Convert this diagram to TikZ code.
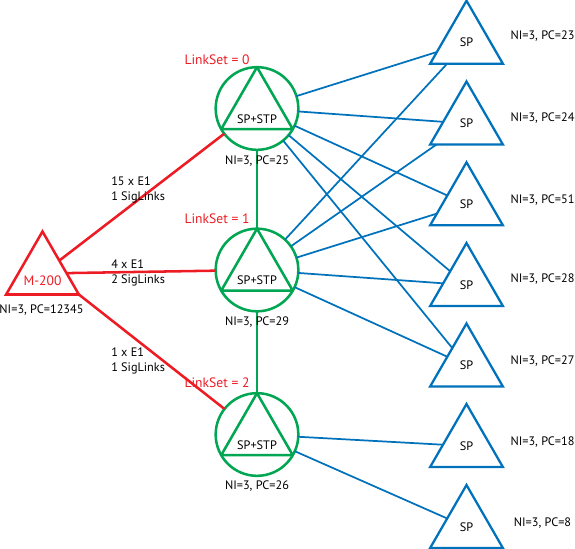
\documentclass[tikz,border=0pt]{standalone}
\usepackage{fontspec}
\setmainfont{PT Sans}
\usetikzlibrary{shapes.geometric}
\definecolor{stpgreen}{HTML}{00A651}
\definecolor{spblue}{HTML}{0072BC}
\definecolor{mred}{HTML}{ED1C24}
\begin{document}
\begin{tikzpicture}[x=0.75pt,y=-0.75pt,
  stpc/.style={circle,draw=stpgreen,line width=1.9pt,minimum size=62pt,inner sep=0pt,outer sep=0pt},
  sptri/.style={regular polygon,regular polygon sides=3,draw=spblue,line width=1.7pt,minimum size=63pt,inner sep=0pt,outer sep=0pt,font=\fontsize{9.2}{10}\selectfont},
  mtri/.style={regular polygon,regular polygon sides=3,draw=mred,line width=1.9pt,minimum size=63pt,inner sep=0pt,outer sep=0pt},
  bline/.style={draw=spblue,line width=1.3pt},
  rline/.style={draw=mred,line width=1.9pt},
  gline/.style={draw=stpgreen,line width=1.6pt},
  gtri/.style={draw=stpgreen,line width=1.9pt,line join=round},
  txt/.style={font=\fontsize{9.2}{11}\selectfont,inner sep=0pt},
  rtxt/.style={font=\fontsize{10.2}{12}\selectfont,text=mred,inner sep=0pt},
  lnk/.style={txt,anchor=west,align=left}
]
\useasboundingbox (0,0) rectangle (575,549);

% nodes
\node[mtri] (m200) at (42.5,273.5) {};
\node[stpc] (stp0) at (257,108.5) {};
\node[stpc] (stp1) at (257,270) {};
\node[stpc] (stp2) at (257,434.5) {};

\node[sptri] (sp23) at (466.5,42.7) {SP};
\node[sptri] (sp24) at (466.5,123.5) {SP};
\node[sptri] (sp51) at (466.5,204.3) {SP};
\node[sptri] (sp28) at (466.5,285) {SP};
\node[sptri] (sp27) at (466.5,365.5) {SP};
\node[sptri] (sp18) at (466.5,446) {SP};
\node[sptri] (sp8) at (466.5,527) {SP};

% triangles inside the STP circles
\foreach \s in {stp0,stp1,stp2}
  \draw[gtri] (\s.90) -- (\s.210) -- (\s.330) -- cycle;

% green connectors
\draw[gline] (stp0) -- (stp1);
\draw[gline] (stp1) -- (stp2);

% red connectors
\draw[rline] (m200) -- (stp0);
\draw[rline] (m200) -- (stp1);
\draw[rline] (m200.corner 3) -- (stp2);

% blue connectors
\foreach \t in {sp23,sp24,sp51,sp28,sp27} {
  \draw[bline] (stp0) -- (\t);
  \draw[bline] (stp1) -- (\t);
}
\draw[bline] (stp2) -- (sp18);
\draw[bline] (stp2) -- (sp8);

% texts
\node[rtxt] (mname) at (42.5,281) {M-200};
\node[txt] (mni) at (41.5,310) {NI=3, PC=12345};

\node[txt] (s0t) at (257,119.5) {SP+STP};
\node[txt] (s1t) at (257,280.5) {SP+STP};
\node[txt] (s2t) at (257,445) {SP+STP};
\node[txt] (s0n) at (257,161) {NI=3, PC=25};
\node[txt] (s1n) at (257,322) {NI=3, PC=29};
\node[txt] (s2n) at (257,486) {NI=3, PC=26};
\node[rtxt] (ls0) at (217,60) {LinkSet = 0};
\node[rtxt] (ls1) at (217,219) {LinkSet = 1};
\node[rtxt] (ls2) at (217,383) {LinkSet = 2};

\node[lnk] (l0) at (111,190) {15 x E1\\1 SigLinks};
\node[lnk] (l1) at (111,273) {4 x E1\\2 SigLinks};
\node[lnk] (l2) at (111,361) {1 x E1\\1 SigLinks};

\node[txt] (n23) at (542.5,36) {NI=3, PC=23};
\node[txt] (n24) at (542.5,118) {NI=3, PC=24};
\node[txt] (n51) at (542.5,200) {NI=3, PC=51};
\node[txt] (n28) at (542.5,279) {NI=3, PC=28};
\node[txt] (n27) at (542.5,361) {NI=3, PC=27};
\node[txt] (n18) at (542.5,442) {NI=3, PC=18};
\node[txt] (n8) at (542.5,523.5) {NI=3, PC=8};
\end{tikzpicture}
\end{document}
